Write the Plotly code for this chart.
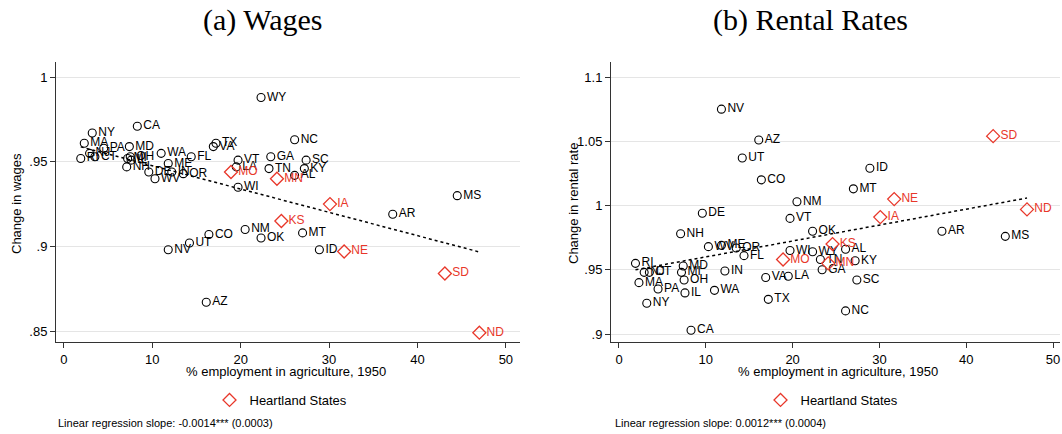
import numpy as np
import plotly.graph_objects as go

states = ["AL","AZ","AR","CA","CO","CT","DE","FL","GA","ID","IL","IN","IA","KS","KY","LA",
          "ME","MD","MA","MI","MN","MS","MO","MT","NE","NV","NH","NJ","NM","NY","NC","ND",
          "OH","OK","OR","PA","RI","SC","SD","TN","TX","UT","VT","VA","WA","WV","WI","WY"]
ag_share = [26.1,16.1,37.2,8.3,16.4,3.5,9.6,14.4,23.4,28.9,7.6,12.2,30.1,24.6,27.2,19.5,
            11.8,7.4,2.3,7.2,24.1,44.5,18.9,27.0,31.7,11.8,7.1,2.9,20.5,3.2,26.1,47.0,
            7.5,22.3,13.5,4.5,1.9,27.4,43.1,23.2,17.2,14.2,19.7,16.9,11.0,10.3,19.7,22.3]
wage_change = [0.942,0.867,0.919,0.971,0.907,0.953,0.944,0.953,0.953,0.898,0.951,0.944,0.925,0.915,0.946,0.947,
               0.949,0.959,0.961,0.952,0.940,0.930,0.944,0.908,0.897,0.898,0.947,0.955,0.910,0.967,0.963,0.849,
               0.953,0.905,0.943,0.958,0.952,0.951,0.884,0.946,0.961,0.902,0.951,0.959,0.955,0.940,0.935,0.988]
rent_change = [0.966,1.051,0.980,0.903,1.020,0.948,0.994,0.961,0.950,1.029,0.932,0.949,0.991,0.970,0.957,0.945,
               0.969,0.953,0.940,0.948,0.955,0.976,0.958,1.013,1.005,1.075,0.978,0.948,1.003,0.924,0.918,0.997,
               0.942,0.980,0.967,0.935,0.955,0.942,1.054,0.958,0.927,1.037,0.990,0.944,0.934,0.968,0.965,0.964]
heartland = ["IA","KS","MN","MO","NE","ND","SD"]

wage_ticks = [0.85, 0.9, 0.95, 1.0]
wage_ticktext = [".85", ".9", ".95", "1"]
rent_ticks = [0.9, 0.95, 1.0, 1.05, 1.1]
rent_ticktext = [".9", ".95", "1", "1.05", "1.1"]
x_ticks = [0, 10, 20, 30, 40, 50]

titles = ["(a) Wages", "(b) Rental Rates"]
ytitles = ["Change in wages", "Change in rental rate"]
notes = ["Linear regression slope: -0.0014*** (0.0003)", "Linear regression slope: 0.0012*** (0.0004)"]

RED = "#e8372a"
W, H = 1062, 434
ML, MR, MT, MB = 56, 2, 62, 92
PW = W - ML - MR
PH = H - MT - MB

def px2paper_x(px):
    return (px - ML) / PW

def px2paper_y(py):
    return (H - MB - py) / PH

fig = go.Figure()

x_arr = np.array(ag_share)
is_h = np.array([s in heartland for s in states])
st = np.array(states)

panels = [(np.array(wage_change), "x", "y", "legend"), (np.array(rent_change), "x2", "y2", "legend2")]
for i, (yv, xa, ya, lg) in enumerate(panels):
    fig.add_trace(go.Scatter(
        x=x_arr[~is_h], y=yv[~is_h], text=st[~is_h], mode="markers+text",
        textposition="middle right", textfont=dict(size=12, color="black", family="Liberation Sans"),
        marker=dict(symbol="circle-open", size=8, color="black", line=dict(width=1.1)),
        xaxis=xa, yaxis=ya, showlegend=False, cliponaxis=False))
    fig.add_trace(go.Scatter(
        x=x_arr[is_h], y=yv[is_h], text=st[is_h], mode="markers+text",
        textposition="middle right", textfont=dict(size=12, color=RED, family="Liberation Sans"),
        marker=dict(symbol="diamond-open", size=10, color=RED, line=dict(width=1.3)),
        xaxis=xa, yaxis=ya, name="Heartland States", showlegend=True, legend=lg, cliponaxis=False))
    slope, icpt = np.polyfit(x_arr, yv, 1)
    xl = np.array([x_arr.min(), x_arr.max()])
    fig.add_trace(go.Scatter(
        x=xl, y=icpt + slope * xl, mode="lines",
        line=dict(color="black", width=1.5, dash="dot"),
        xaxis=xa, yaxis=ya, showlegend=False, hoverinfo="skip"))

left_dom = [0, px2paper_x(520)]
right_dom = [px2paper_x(611), 1.0]

axis_common = dict(showline=True, linecolor="#333333", linewidth=1, ticks="outside", ticklen=5,
                   tickcolor="#333333", tickfont=dict(size=13, color="black", family="Liberation Sans"),
                   zeroline=False, automargin=False)

leg_common = dict(xanchor="center", yanchor="middle", itemwidth=30,
                  font=dict(size=13, color="black", family="Liberation Sans"), bgcolor="rgba(0,0,0,0)")

fig.update_layout(
    width=W, height=H, margin=dict(l=ML, r=MR, t=MT, b=MB, autoexpand=False),
    plot_bgcolor="white", paper_bgcolor="white",
    xaxis=dict(domain=left_dom, range=[-0.9, 51.6], tickvals=x_ticks, showgrid=False, anchor="y", **axis_common),
    yaxis=dict(domain=[0, 1], range=[0.8435, 1.009], tickvals=wage_ticks, ticktext=wage_ticktext,
               showgrid=True, gridcolor="#e5e5e5", gridwidth=1, anchor="x", **axis_common),
    xaxis2=dict(domain=right_dom, range=[-0.92, 50.8], tickvals=x_ticks, showgrid=False, anchor="y2", **axis_common),
    yaxis2=dict(domain=[0, 1], range=[0.8938, 1.1117], tickvals=rent_ticks, ticktext=rent_ticktext,
                showgrid=True, gridcolor="#e5e5e5", gridwidth=1, anchor="x2", **axis_common),
    legend=dict(x=px2paper_x(281), y=px2paper_y(400), **leg_common),
    legend2=dict(x=px2paper_x(832), y=px2paper_y(400), **leg_common),
    showlegend=True,
)

ann = []
title_centers = [262, 810]
xtitle_centers = [286, 838]
ytitle_x = [16, 573]
note_x = [56, 613]
for i in range(2):
    ann.append(dict(text=titles[i], x=px2paper_x(title_centers[i]), y=px2paper_y(20), xref="paper", yref="paper",
                    showarrow=False, xanchor="center", yanchor="middle",
                    font=dict(size=30, color="black", family="Liberation Serif")))
    ann.append(dict(text="% employment in agriculture, 1950", x=px2paper_x(xtitle_centers[i]), y=px2paper_y(371),
                    xref="paper", yref="paper", showarrow=False, xanchor="center", yanchor="middle",
                    font=dict(size=13, color="black", family="Liberation Sans")))
    ann.append(dict(text=ytitles[i], x=px2paper_x(ytitle_x[i]), y=px2paper_y(204), xref="paper", yref="paper",
                    showarrow=False, xanchor="center", yanchor="middle", textangle=-90,
                    font=dict(size=13, color="black", family="Liberation Sans")))
    ann.append(dict(text=notes[i], x=px2paper_x(note_x[i]), y=px2paper_y(423), xref="paper", yref="paper",
                    showarrow=False, xanchor="left", yanchor="middle",
                    font=dict(size=11, color="black", family="Liberation Sans")))
fig.update_layout(annotations=ann)

fig.write_html("out.html", config={"displayModeBar": False},
               post_script="document.body.style.margin='0px';document.body.style.overflow='hidden';")
